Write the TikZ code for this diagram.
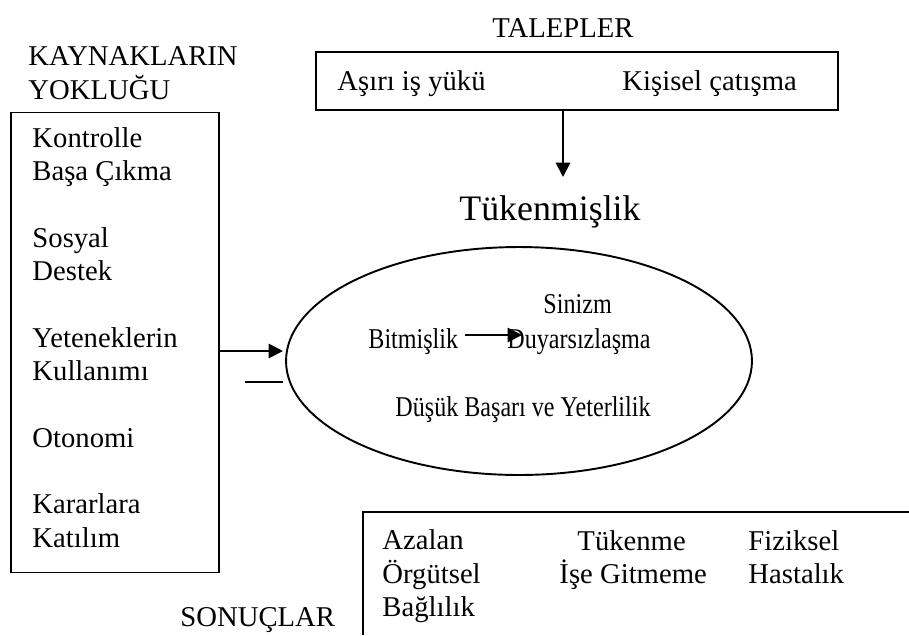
\documentclass[tikz,border=0pt]{standalone}
\usepackage{graphicx}
\usepackage{fontspec}
\setmainfont{Liberation Serif}
\usetikzlibrary{arrows.meta,shapes.geometric,calc}
\newcommand{\cmpr}[1]{\scalebox{0.84}[1]{#1}}
\begin{document}
\begin{tikzpicture}[x=0.4185pt,y=-0.4185pt,
  font=\fontsize{12pt}{13.94pt}\selectfont,
  txt/.style={inner sep=0pt,anchor=base west,align=left},
  ctxt/.style={inner sep=0pt,anchor=base},
  line/.style={line width=0.8pt},
  arr/.style={line width=0.8pt,-{Triangle[length=6pt,width=6pt]}}]
\useasboundingbox (0,0) rectangle (909,635);
% top
\node[ctxt] (tal) at (563,37) {TALEPLER};
\node[draw,line,minimum width=218.5pt,minimum height=24.3pt,inner sep=0pt] (tbox) at (577,81) {};
\node[txt] (asiri) at (337,90) {Aşırı iş yükü};
\node[txt] (kisisel) at (622,90) {Kişisel çatışma};
\node[ctxt,font=\fontsize{15pt}{17pt}\selectfont] (tuk) at (550,220) {Tükenmişlik};
\coordinate (d1) at (563,177);
\draw[arr] (tbox.south -| d1) -- (d1);
% left (base anchor of a multi-line node = last line)
\node[txt] (kay) at (28,99) {KAYNAKLARIN\\YOKLUĞU};
\node[draw,line,minimum width=87pt,minimum height=192.5pt,inner sep=0pt] (lbox) at (115,342.5) {};
\node[txt] (list) at (32,547) {Kontrolle\\Başa Çıkma\\[13.94pt]Sosyal\\Destek\\[13.94pt]Yeteneklerin\\Kullanımı\\[13.94pt]Otonomi\\[13.94pt]Kararlara\\Katılım};
% ellipse
\node[draw,line,ellipse,minimum width=195pt,minimum height=95.4pt,inner sep=0pt] (ell) at (519,361) {};
\node[txt] (sin) at (543,313) {\cmpr{Sinizm}};
\node[txt] (bit) at (368,348) {\cmpr{Bitmişlik}};
\node[txt] (duy) at (507,348) {\cmpr{Duyarsızlaşma}};
\node[txt] (dus) at (395,416) {\cmpr{Düşük Başarı ve Yeterlilik}};
\coordinate (ia) at (465,335);
\coordinate (ib) at (522,335);
\draw[arr] (ia) -- (ib);
\coordinate (la) at (283,351);
\draw[arr] (lbox.east |- la) -- (la);
\coordinate (da) at (245,382);
\coordinate (db) at (283,382);
\draw[line] (da) -- (db);
% bottom
\coordinate (b1) at (363,635);
\coordinate (b2) at (363,512);
\coordinate (b3) at (909,512);
\draw[line] (b1) -- (b2) -- (b3);
\node[txt] (aza) at (382,616.6) {Azalan\\Örgütsel\\Bağlılık};
\node[txt] (tkm) at (577,550) {Tükenme};
\node[txt] (ise) at (559,583.3) {İşe Gitmeme};
\node[txt] (fiz) at (748,583.3) {Fiziksel\\Hastalık};
\node[txt] (son) at (180,626) {SONUÇLAR};
\end{tikzpicture}
\end{document}
